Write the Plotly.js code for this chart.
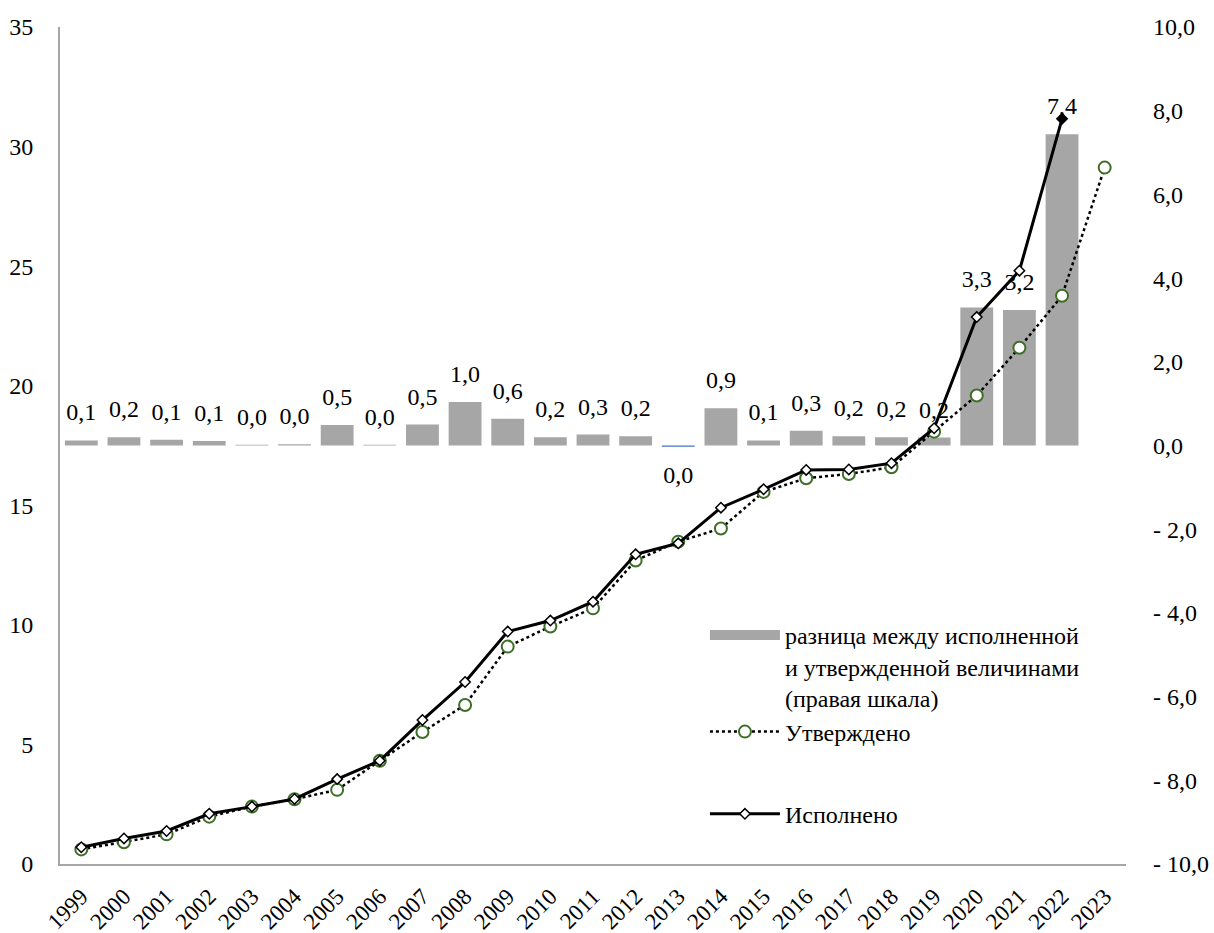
<!DOCTYPE html>
<html>
<head>
<meta charset="utf-8">
<script src="https://cdn.plot.ly/plotly-3.0.1.min.js"></script>
<style>
html,body{margin:0;padding:0;background:#fff;}
#chart{width:1214px;height:933px;}
#chart .barlayer .point .bartext{translate:0 -12px;}
#chart .barlayer .point:nth-child(15) .bartext{translate:0 12px;}
</style>
</head>
<body>
<div id="chart"></div>
<script>
const years = ['1999','2000','2001','2002','2003','2004','2005','2006','2007','2008','2009','2010','2011','2012','2013','2014','2015','2016','2017','2018','2019','2020','2021','2022','2023'];
const executed = [0.70,1.07,1.38,2.10,2.40,2.72,3.55,4.32,6.02,7.61,9.72,10.18,10.97,12.95,13.41,14.90,15.67,16.48,16.50,16.76,18.22,22.87,24.81,31.16,null];
const approved = [0.61,0.91,1.24,1.98,2.40,2.71,3.10,4.32,5.52,6.65,9.09,9.93,10.69,12.69,13.48,14.03,15.56,16.13,16.31,16.59,18.08,19.59,21.59,23.76,29.12];
const diff = [0.12,0.20,0.14,0.11,0.02,0.03,0.49,0.02,0.50,1.04,0.64,0.20,0.26,0.22,-0.03,0.89,0.12,0.35,0.22,0.20,0.19,3.30,3.24,7.44,null];
const rightTickVals = [-10,-8,-6,-4,-2,0,2,4,6,8,10];
const rightTickText = ['- 10,0','- 8,0','- 6,0','- 4,0','- 2,0','0,0','2,0','4,0','6,0','8,0','10,0'];
const leftTickVals = [0,5,10,15,20,25,30,35];
const nameDiff = 'разница между исполненной<br>и утвержденной величинами<br>(правая шкала)';
const nameApproved = 'Утверждено';
const nameExecuted = 'Исполнено';

const FONT = "Liberation Serif";
const diffText = diff.map(v => v === null ? '' : (Math.round(v*10) === 0 ? 0 : v).toFixed(1).replace('.', ','));
const barColors = diff.map(v => (v !== null && v < 0) ? '#4472c4' : '#a6a6a6');
const execMarkerColors = executed.map((v, i) => i === 23 ? '#000' : '#fff');

const traces = [
  {
    type: 'bar', x: years, y: diff, name: nameDiff, yaxis: 'y', xaxis: 'x',
    marker: {color: barColors, line: {width: 0}},
    text: diffText, textposition: 'outside', cliponaxis: false,
    textfont: {family: FONT, size: 24, color: '#000'},
    showlegend: false, hoverinfo: 'skip'
  },
  {
    type: 'scatter', mode: 'lines', x: [null], y: [null], name: nameDiff, yaxis: 'y',
    line: {color: '#a6a6a6', width: 13}, legendgroup: 'a', hoverinfo: 'skip'
  },
  {
    type: 'scatter', mode: 'lines+markers', x: years, y: approved, name: nameApproved, yaxis: 'y2',
    line: {color: '#000', width: 2.5, dash: 'dot'},
    marker: {symbol: 'circle', size: 12, color: '#fff', line: {color: '#3e6e27', width: 2}},
    legendgroup: 'a', cliponaxis: false
  },
  {
    type: 'scatter', mode: 'lines+markers', x: years, y: executed, name: nameExecuted, yaxis: 'y2',
    line: {color: '#000', width: 3},
    marker: {symbol: 'diamond', size: 8, color: execMarkerColors, line: {color: '#000', width: 1.5}},
    legendgroup: 'b', cliponaxis: false
  }
];

const layout = {
  width: 1214, height: 933,
  margin: {l: 60, r: 88, t: 27, b: 69},
  paper_bgcolor: '#fff', plot_bgcolor: '#fff',
  separators: ', ',
  font: {family: FONT, size: 24, color: '#000'},
  showlegend: true,
  bargap: 0.23,
  xaxis: {
    type: 'category', showgrid: false, zeroline: false,
    showline: true, linecolor: '#a6a6a6', linewidth: 2,
    tickangle: -45, ticks: '', tickfont: {family: FONT, size: 23, color: '#000'},
    ticklabelstandoff: 8,
    range: [-0.5, 24.5]
  },
  yaxis: {
    side: 'right', range: [-10, 10], showgrid: false, zeroline: false,
    showline: false, tickvals: rightTickVals, ticktext: rightTickText,
    tickfont: {family: FONT, size: 24, color: '#000'}, ticks: '', ticklabelstandoff: 26
  },
  yaxis2: {
    overlaying: 'y', side: 'left', range: [0, 35], showgrid: false, zeroline: false,
    showline: true, linecolor: '#a6a6a6', linewidth: 2,
    tickvals: leftTickVals, tickfont: {family: FONT, size: 24, color: '#000'}, ticks: '', ticklabelstandoff: 20
  },
  legend: {
    x: 0.605, y: 0.30, xanchor: 'left', yanchor: 'top',
    bgcolor: 'rgba(0,0,0,0)', font: {family: FONT, size: 24, color: '#000'},
    traceorder: 'grouped', tracegroupgap: 48, itemwidth: 70,
    valign: 'top'
  }
};

Plotly.newPlot('chart', traces, layout, {displayModeBar: false, staticPlot: true});
</script>
</body>
</html>
